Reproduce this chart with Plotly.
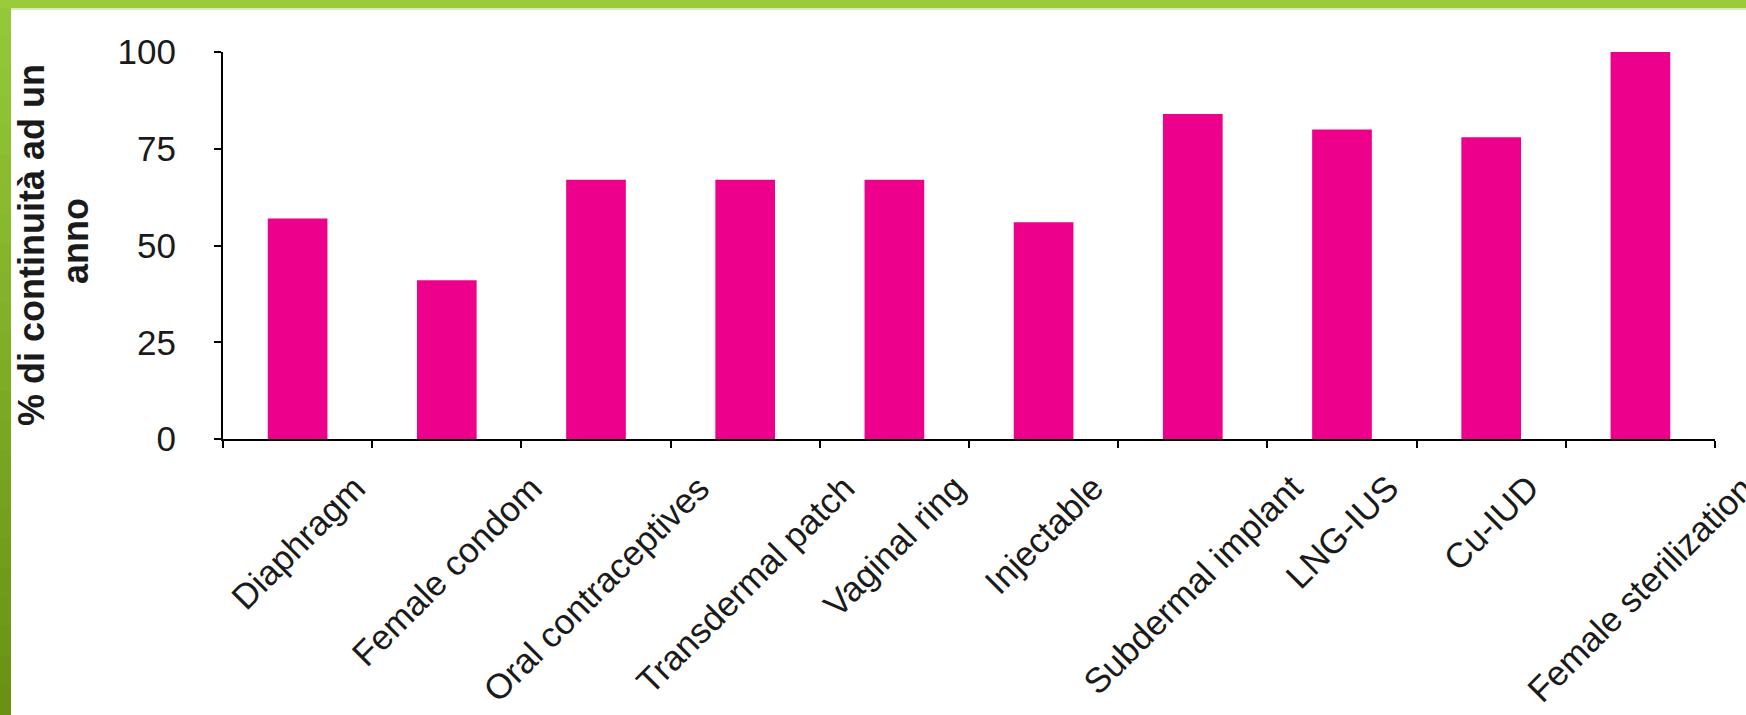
import plotly.graph_objects as go

categories = ["Diaphragm", "Female condom", "Oral contraceptives", "Transdermal patch",
              "Vaginal ring", "Injectable", "Subdermal implant", "LNG-IUS", "Cu-IUD",
              "Female sterilization"]
values = [57, 41, 67, 67, 67, 56, 84, 80, 78, 100]
y_ticks = [0, 25, 50, 75, 100]
y_title_lines = ["% di continuità ad un", "anno"]

W, H = 1746, 715
ML, MR, MT, MB = 223, 31, 52, 276
PW = W - ML - MR
PH = H - MT - MB

FONT = "Liberation Sans, Arial, sans-serif"
TXT = "#1a1a1a"
BAR = "#EC008C"

fig = go.Figure()
fig.add_trace(go.Bar(x=categories, y=values, marker=dict(color=BAR, line=dict(width=0)),
                     width=0.4, showlegend=False, hoverinfo="x+y"))

fig.update_layout(
    width=W, height=H,
    margin=dict(l=ML, r=MR, t=MT, b=MB, pad=0),
    paper_bgcolor="white", plot_bgcolor="white",
    font=dict(family=FONT, color=TXT, size=35),
    xaxis=dict(type="category", range=[-0.5, len(categories) - 0.5],
               showline=True, linecolor="black", linewidth=2,
               ticks="outside", tickson="boundaries", ticklen=7, tickwidth=2, tickcolor="black",
               showticklabels=False, showgrid=False, zeroline=False, fixedrange=True),
    yaxis=dict(range=[0, 100], tickmode="array", tickvals=y_ticks,
               showline=True, linecolor="black", linewidth=2,
               ticks="outside", ticklen=7, tickwidth=2, tickcolor="black",
               tickfont=dict(family=FONT, size=35, color=TXT),
               ticklabelstandoff=31,
               showgrid=False, zeroline=False, fixedrange=True),
)

# category labels: rotated, bbox centred under each category and top-aligned below the axis
for c in categories:
    fig.add_annotation(text=c, x=c, xref="x", y=0, yref="paper",
                       xanchor="center", yanchor="top", yshift=-26,
                       textangle=-45, showarrow=False,
                       font=dict(family=FONT, size=35, color=TXT))

# y title lines
title_pos = [(32, 245), (75, 241)]
for line, (px, py) in zip(y_title_lines, title_pos):
    fig.add_annotation(text=line, xref="paper", yref="paper",
                       x=(px - ML) / PW, y=(H - MB - py) / PH,
                       xanchor="center", yanchor="middle",
                       textangle=-90, showarrow=False,
                       font=dict(family=FONT, size=36, color=TXT, weight="bold"))

# green decorative borders
def px_rect(x0, x1, y0, y1, col):
    fig.add_shape(type="rect", xref="paper", yref="paper",
                  x0=(x0 - ML) / PW, x1=(x1 - ML) / PW,
                  y0=(H - MB - y0) / PH, y1=(H - MB - y1) / PH,
                  line=dict(width=0), fillcolor=col, layer="above")

n = 24
c0 = (0x94, 0xc8, 0x38)
c1 = (0x69, 0x92, 0x14)
for i in range(n):
    t = i / (n - 1)
    col = "rgb(%d,%d,%d)" % tuple(round(a + (b - a) * t) for a, b in zip(c0, c1))
    ya = 8 + (H - 8) * i / n
    yb = 8 + (H - 8) * (i + 1) / n + 2
    px_rect(-2, 11, ya, min(yb, H + 2), col)
px_rect(11, W + 2, 8, 10, "#d9ecb6")
px_rect(-2, W + 2, -2, 8, "#9bcb3b")

fig.write_html("out.html")
